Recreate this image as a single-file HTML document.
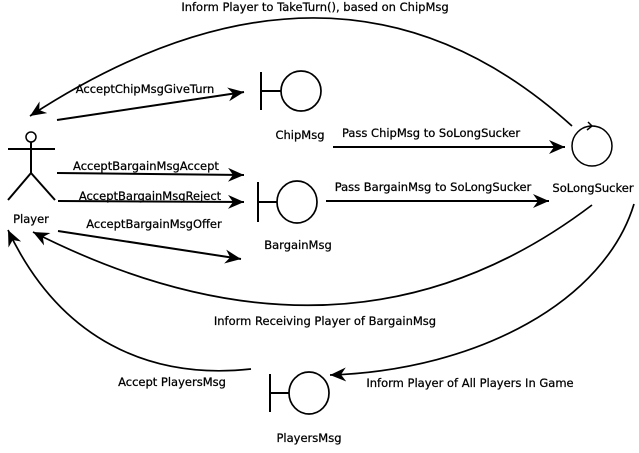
<!DOCTYPE html>
<html><head><meta charset="utf-8"><style>
html,body{margin:0;padding:0;background:#fff;}
svg{display:block;}
</style></head><body>
<svg width="639" height="453" viewBox="0 0 639 453" xmlns="http://www.w3.org/2000/svg">
<defs>
<marker id="a" markerWidth="18" markerHeight="14" refX="16" refY="7" orient="auto" markerUnits="userSpaceOnUse">
<path d="M0,0 L16,7 L0,14 L5,7 Z" fill="#000"/>
</marker>
</defs>
<g stroke="#000" fill="none" stroke-width="2">
<circle cx="31" cy="137" r="5" stroke-width="1.5"/>
<line x1="31" y1="142" x2="31" y2="173"/>
<line x1="8" y1="149" x2="55" y2="149"/>
<line x1="31" y1="173" x2="8" y2="200"/>
<line x1="31" y1="173" x2="55" y2="200"/>
<line x1="261" y1="72" x2="261" y2="110"/>
<line x1="261" y1="91" x2="281" y2="91"/>
<circle cx="301" cy="91" r="20" stroke-width="1.7"/>
<line x1="258" y1="182" x2="258" y2="222"/>
<line x1="258" y1="202" x2="277" y2="202"/>
<ellipse cx="297" cy="202" rx="20" ry="21" stroke-width="1.7"/>
<line x1="270" y1="374" x2="270" y2="412"/>
<line x1="270" y1="393" x2="289" y2="393"/>
<ellipse cx="309" cy="393" rx="20" ry="21" stroke-width="1.7"/>
<circle cx="592" cy="146" r="20" stroke-width="1.5"/>
<path d="M592,126 L588,122 M592,126 L587,130" stroke-width="1.5"/>
<line x1="57" y1="120" x2="244" y2="92" marker-end="url(#a)"/>
<line x1="57" y1="173" x2="244" y2="175" marker-end="url(#a)"/>
<line x1="58" y1="201" x2="244" y2="202" marker-end="url(#a)"/>
<line x1="58" y1="231" x2="241" y2="259" marker-end="url(#a)"/>
<line x1="333" y1="147" x2="565" y2="147" marker-end="url(#a)"/>
<line x1="326" y1="201" x2="549" y2="201" marker-end="url(#a)"/>
<path d="M572,126 Q339,-85 30,116" stroke-width="1.7" marker-end="url(#a)"/>
<path d="M592,205 Q347,391 33,232" stroke-width="1.7" marker-end="url(#a)"/>
<path d="M634,204 C605,300 480,370 330,375" stroke-width="1.7" marker-end="url(#a)"/>
<path d="M251,369 C150,380 60,340 8,230" stroke-width="1.7" marker-end="url(#a)"/>
</g>
<g font-family="DejaVu Sans, Liberation Sans, sans-serif" font-size="11.5" fill="#000" stroke="#000" stroke-width="0.25" text-anchor="middle">
<text x="315" y="11">Inform Player to TakeTurn(), based on ChipMsg</text>
<text x="145" y="93">AcceptChipMsgGiveTurn</text>
<text x="300" y="139">ChipMsg</text>
<text x="431" y="137">Pass ChipMsg to SoLongSucker</text>
<text x="146" y="170">AcceptBargainMsgAccept</text>
<text x="150" y="200">AcceptBargainMsgReject</text>
<text x="154" y="228">AcceptBargainMsgOffer</text>
<text x="433" y="191">Pass BargainMsg to SoLongSucker</text>
<text x="593" y="192">SoLongSucker</text>
<text x="31" y="223">Player</text>
<text x="298" y="249">BargainMsg</text>
<text x="325" y="325">Inform Receiving Player of BargainMsg</text>
<text x="172" y="386">Accept PlayersMsg</text>
<text x="470" y="387">Inform Player of All Players In Game</text>
<text x="309" y="442">PlayersMsg</text>
</g>
</svg>
</body></html>
